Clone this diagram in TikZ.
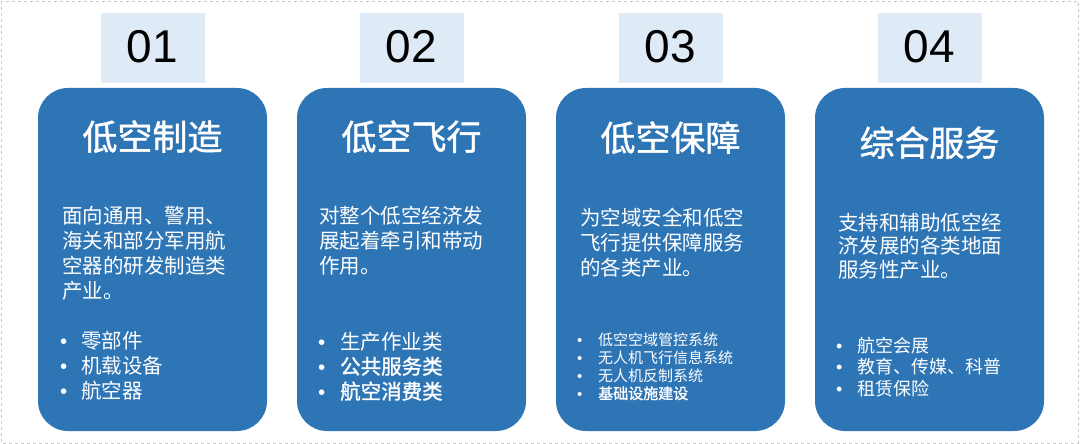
\documentclass[tikz,border=0pt]{standalone}
\usepackage{fontspec}
\setmainfont{Noto Sans CJK SC}
\newfontfamily\numfont{Liberation Sans}
\newfontfamily\bulfont{Liberation Sans}
\newfontfamily\semibold{Noto Sans CJK SC}[FakeBold=1.3]
\newfontfamily\titlefont{Noto Sans CJK SC}[FakeBold=1.2]
\definecolor{cardblue}{HTML}{2E75B6}
\definecolor{numfill}{HTML}{DEEBF7}
\definecolor{framegray}{HTML}{C8C8C8}
\tikzset{
  card/.style={fill=cardblue, draw=none, rounded corners=30pt},
  numbox/.style={fill=numfill, draw=none},
  numtext/.style={font=\numfont\fontsize{46}{46}\selectfont, text=black, anchor=base, inner sep=0pt},
  titletext/.style={font=\titlefont\fontsize{35}{35}\selectfont, text=white, anchor=base, inner sep=0pt},
  bodytext/.style={font=\fontsize{20.5}{25}\selectfont, text=white, anchor=base west, inner sep=0pt},
}
\newcommand{\bul}[2]{\makebox[#1][l]{\bulfont •}#2}
\begin{document}
\begin{tikzpicture}[x=1pt,y=-1pt]
\useasboundingbox (0,0) rectangle (1080,444);
\draw[framegray, dashed, line width=0.8pt] (1,1) rectangle (1078,443);

% cards
\foreach \i/\L in {1/38,2/297,3/556,4/815}{
  \fill[cardblue, rounded corners=30pt] (\L,88) rectangle ++(229,343);
  \fill[numfill] (\L+63,13) rectangle ++(104,70);
}
\node[numtext] (n1) at (152.5,63) {01};
\node[numtext] (n2) at (411.5,63) {02};
\node[numtext] (n3) at (670.5,63) {03};
\node[numtext] (n4) at (929.5,63) {04};

\node[titletext] (t1) at (152.5,150) {低空制造};
\node[titletext] (t2) at (411.5,150) {低空飞行};
\node[titletext] (t3) at (670.5,151) {低空保障};
\node[titletext] (t4) at (929.5,156) {综合服务};

% body text
\node[bodytext] (b1) at (62,223) {\parbox[t]{220pt}{\raggedright 面向通用、警用、\\海关和部分军用航\\空器的研发制造类\\产业。}};
\node[bodytext] (b2) at (319,223) {\parbox[t]{220pt}{\raggedright 对整个低空经济发\\展起着牵引和带动\\作用。}};
\node[bodytext] (b3) at (580,225) {\parbox[t]{220pt}{\raggedright 为空域安全和低空\\飞行提供保障服务\\的各类产业。}};
\node[bodytext, font=\fontsize{20.5}{23.5}\selectfont] (b4) at (838,230) {\parbox[t]{220pt}{\raggedright 支持和辅助低空经\\济发展的各类地面\\服务性产业。}};

% bullet lists
\node[bodytext] (l1) at (60,348) {\parbox[t]{220pt}{\raggedright \bul{21pt}{零部件}\\\bul{21pt}{机载设备}\\\bul{21pt}{航空器}}};
\node[bodytext] (l2) at (318,349) {\parbox[t]{220pt}{\raggedright \bul{22pt}{生产作业类}\\\bul{22pt}{\semibold 公共服务类}\\\bul{22pt}{\semibold 航空消费类}}};
\node[bodytext, font=\fontsize{15}{18}\selectfont] (l3) at (577,345) {\parbox[t]{220pt}{\raggedright \bul{21pt}{低空空域管控系统}\\\bul{21pt}{无人机飞行信息系统}\\\bul{21pt}{无人机反制系统}\\\bul{21pt}{\semibold 基础设施建设}}};
\node[bodytext, font=\fontsize{18}{21.5}\selectfont] (l4) at (836,352) {\parbox[t]{220pt}{\raggedright \bul{21pt}{航空会展}\\\bul{21pt}{教育、传媒、科普}\\\bul{21pt}{租赁保险}}};
\end{tikzpicture}
\end{document}
